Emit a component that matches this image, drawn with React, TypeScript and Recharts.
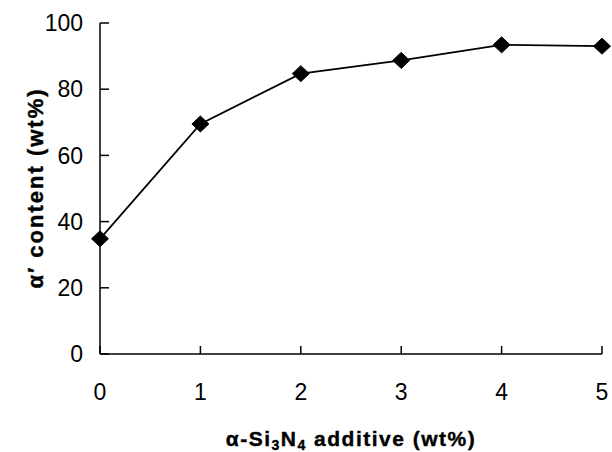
import React from 'react';
import { LineChart, Line, XAxis, YAxis } from 'recharts';

const additive = [0, 1, 2, 3, 4, 5];
const alphaContent = [34.8, 69.5, 84.7, 88.7, 93.4, 93.0];
const xTicks = [0, 1, 2, 3, 4, 5];
const yTicks = [0, 20, 40, 60, 80, 100];

const data = additive.map((a, i) => ({ x: a, y: alphaContent[i] }));

const FONT = 'Arial, "Liberation Sans", Helvetica, sans-serif';

const YTick = (props: any) => {
  const { x, y, payload } = props;
  return (
    <g>
      <line x1={x} y1={y} x2={x + 9} y2={y} stroke="#000" strokeWidth={1.5} />
      <text x={x - 17} y={y} dy="0.36em" textAnchor="end" fontFamily={FONT} fontSize={23} fill="#000">
        {payload.value}
      </text>
    </g>
  );
};

const XTick = (props: any) => {
  const { x, y, payload } = props;
  return (
    <g>
      <line x1={x} y1={y} x2={x} y2={y - 8} stroke="#000" strokeWidth={1.5} />
      <text x={x} y={y + 38} dy="0.36em" textAnchor="middle" fontFamily={FONT} fontSize={23} fill="#000">
        {payload.value}
      </text>
    </g>
  );
};

const Diamond = (props: any) => {
  const { cx, cy } = props;
  if (cx == null || cy == null) return null;
  const w = 8.5;
  const h = 8;
  return (
    <polygon
      points={`${cx},${cy - h} ${cx + w},${cy} ${cx},${cy + h} ${cx - w},${cy}`}
      fill="#000"
      stroke="#000"
    />
  );
};

const XLabel = (props: any) => {
  const vb = props.viewBox || {};
  const cx = vb.x + vb.width / 2;
  const y = 446;
  return (
    <text x={cx} y={y} textAnchor="middle" fontFamily={FONT} fontSize={21} fontWeight="bold" letterSpacing={1.5} fill="#000" stroke="#000" strokeWidth={0.4}>
      <tspan>α-Si</tspan>
      <tspan fontSize={14} dy={4}>3</tspan>
      <tspan dy={-4}>N</tspan>
      <tspan fontSize={14} dy={4}>4</tspan>
      <tspan dy={-4}> additive (wt%)</tspan>
    </text>
  );
};

const YLabel = () => {
  const cx = 35;
  const cy = 188;
  return (
    <text
      x={cx}
      y={cy}
      dy="0.36em"
      textAnchor="middle"
      transform={`rotate(-90, ${cx}, ${cy})`}
      fontFamily={FONT}
      fontSize={22}
      fontWeight="bold"
      letterSpacing={2}
      fill="#000"
      stroke="#000"
      strokeWidth={0.4}
    >
      α′ content (wt%)
    </text>
  );
};

export default function App() {
  return (
    <div style={{ position: 'absolute', left: 0, top: 0, width: 612, height: 452, background: '#fff' }}>
      <LineChart width={612} height={452} data={data} margin={{ top: 23, right: 10, bottom: 0, left: 0 }}>
        <XAxis
          dataKey="x"
          type="number"
          domain={[0, 5]}
          ticks={xTicks}
          height={98}
          tickLine={false}
          tickSize={0}
          tickMargin={0}
          tick={<XTick />}
          axisLine={{ stroke: '#000', strokeWidth: 1.5 }}
          label={<XLabel />}
        />
        <YAxis
          type="number"
          domain={[0, 100]}
          ticks={yTicks}
          width={100}
          tickLine={false}
          tickSize={0}
          tickMargin={0}
          tick={<YTick />}
          axisLine={{ stroke: '#000', strokeWidth: 1.5 }}
          label={<YLabel />}
        />
        <Line
          dataKey="y"
          stroke="#000"
          strokeWidth={1.8}
          dot={<Diamond />}
          activeDot={false}
          isAnimationActive={false}
        />
      </LineChart>
    </div>
  );
}
